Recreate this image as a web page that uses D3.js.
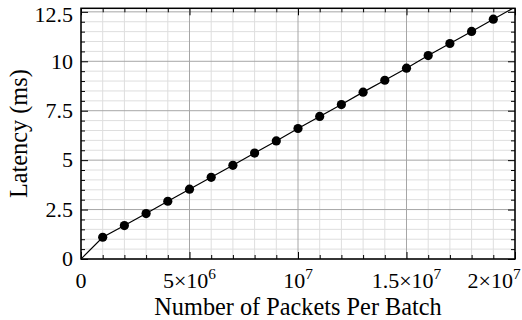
<!DOCTYPE html>
<html><head><meta charset="utf-8"><script src="https://cdn.jsdelivr.net/npm/d3@7"></script></head>
<body style="margin:0">
<svg id="chart" width="522" height="320"></svg>
<script>
// packets per batch and measured latency (ms)
const packets = [0, 1e6, 2e6, 3e6, 4e6, 5e6, 6e6, 7e6, 8e6, 9e6, 1e7,
  1.1e7, 1.2e7, 1.3e7, 1.4e7, 1.5e7, 1.6e7, 1.7e7, 1.8e7, 1.9e7, 2e7];
const latency = [0, 1.10, 1.69, 2.30, 2.92, 3.53, 4.13, 4.74, 5.36, 5.97, 6.60,
  7.21, 7.81, 8.44, 9.04, 9.65, 10.29, 10.90, 11.51, 12.13, 12.74];

const xMajor = [0, 5e6, 1e7, 1.5e7, 2e7];
const xMajorLabels = [["0", ""], ["5×10", "6"], ["10", "7"], ["1.5×10", "7"], ["2×10", "7"]];
const xMinor = [1e6, 2e6, 3e6, 4e6, 6e6, 7e6, 8e6, 9e6, 1.1e7, 1.2e7, 1.3e7, 1.4e7, 1.6e7, 1.7e7, 1.8e7, 1.9e7];
const yMajor = [0, 2.5, 5, 7.5, 10, 12.5];
const yMajorLabels = ["0", "2.5", "5", "7.5", "10", "12.5"];
const yMinor = [0.5, 1, 1.5, 2, 3, 3.5, 4, 4.5, 5.5, 6, 6.5, 7, 8, 8.5, 9, 9.5, 10.5, 11, 11.5, 12];

const xTitle = "Number of Packets Per Batch";
const yTitle = "Latency (ms)";

const svg = d3.select('#chart');
const W = 522;
const L = 81, R = 515, T = 8.3, B = 259;
const FS = 22, TFS = 24.3;

const x = d3.scaleLinear().domain([0, 2e7]).range([L, R]);
const y = d3.scaleLinear().domain([0, 12.68]).range([B, T]);

// grid: light minor lines, darker major lines
const grid = svg.append('g');
grid.selectAll('line.vmin').data(xMinor).join('line')
  .attr('x1', d => x(d)).attr('x2', d => x(d)).attr('y1', T).attr('y2', B)
  .attr('stroke', '#dedede').attr('stroke-width', 1);
grid.selectAll('line.hmin').data(yMinor).join('line')
  .attr('y1', d => y(d)).attr('y2', d => y(d)).attr('x1', L).attr('x2', R)
  .attr('stroke', '#dedede').attr('stroke-width', 1);
grid.selectAll('line.vmaj').data(xMajor).join('line')
  .attr('x1', d => x(d)).attr('x2', d => x(d)).attr('y1', T).attr('y2', B)
  .attr('stroke', '#a6a6a6').attr('stroke-width', 1);
grid.selectAll('line.hmaj').data(yMajor).join('line')
  .attr('y1', d => y(d)).attr('y2', d => y(d)).attr('x1', L).attr('x2', R)
  .attr('stroke', '#a6a6a6').attr('stroke-width', 1);

// inside ticks on all four sides
function ticks(axisFn, scale, values, size, tr) {
  svg.append('g').attr('transform', tr)
    .call(axisFn(scale).tickValues(values).tickSize(size).tickFormat(''))
    .call(g => g.select('.domain').remove())
    .call(g => g.selectAll('line').attr('stroke', '#000').attr('stroke-width', 1));
}
ticks(d3.axisBottom, x, xMajor, -7, `translate(0,${B})`);
ticks(d3.axisBottom, x, xMinor, -4, `translate(0,${B})`);
ticks(d3.axisTop, x, xMajor, -7, `translate(0,${T})`);
ticks(d3.axisTop, x, xMinor, -4, `translate(0,${T})`);
ticks(d3.axisLeft, y, yMajor, -7, `translate(${L},0)`);
ticks(d3.axisLeft, y, yMinor, -4, `translate(${L},0)`);
ticks(d3.axisRight, y, yMajor, -7, `translate(${R},0)`);
ticks(d3.axisRight, y, yMinor, -4, `translate(${R},0)`);

// data line + markers (points beyond the plot range are dropped, like the original)
const pts = packets.map((p, i) => [p, latency[i]]);
svg.append('clipPath').attr('id', 'plotclip')
  .append('rect').attr('x', L).attr('y', T).attr('width', R - L).attr('height', B - T);
const line = d3.line().x(d => x(d[0])).y(d => y(d[1]));
svg.append('path').datum(pts)
  .attr('clip-path', 'url(#plotclip)')
  .attr('d', line).attr('fill', 'none').attr('stroke', '#000').attr('stroke-width', 1.2);
svg.selectAll('circle.pt').data(pts.filter(d => d[1] > 0 && d[1] <= 12.68)).join('circle')
  .attr('cx', d => x(d[0])).attr('cy', d => y(d[1])).attr('r', 4.6).attr('fill', '#000');

// frame
svg.append('rect').attr('x', L).attr('y', T).attr('width', R - L).attr('height', B - T)
  .attr('fill', 'none').attr('stroke', '#000').attr('stroke-width', 1.5);

// x tick labels; the last one is pushed left to stay inside the picture
xMajor.forEach((v, i) => {
  const t = svg.append('text').attr('y', 288).attr('font-size', FS)
    .style('font-family', 'Liberation Serif').attr('text-anchor', 'middle');
  t.append('tspan').text(xMajorLabels[i][0]);
  if (xMajorLabels[i][1]) {
    t.append('tspan').attr('font-size', FS * 0.7).attr('dy', -9).text(xMajorLabels[i][1]);
  }
  t.attr('x', x(v));
  const bb = t.node().getBBox();
  if (bb.x + bb.width > W - 1) t.attr('x', x(v) - (bb.x + bb.width - (W - 1)));
});
yMajor.forEach((v, i) => {
  svg.append('text').attr('x', 73).attr('y', Math.max(y(v), 15))
    .attr('dy', '0.33em').attr('font-size', FS).attr('text-anchor', 'end')
    .style('font-family', 'Liberation Serif')
    .text(yMajorLabels[i]);
});

// axis titles
svg.append('text').attr('x', (L + R) / 2).attr('y', 315).attr('font-size', TFS)
  .style('font-family', 'Liberation Serif').attr('text-anchor', 'middle').text(xTitle);
svg.append('text').attr('transform', `translate(27,${(T + B) / 2}) rotate(-90)`).attr('font-size', TFS)
  .style('font-family', 'Liberation Serif').attr('text-anchor', 'middle').text(yTitle);
</script>
</body>
</html>
